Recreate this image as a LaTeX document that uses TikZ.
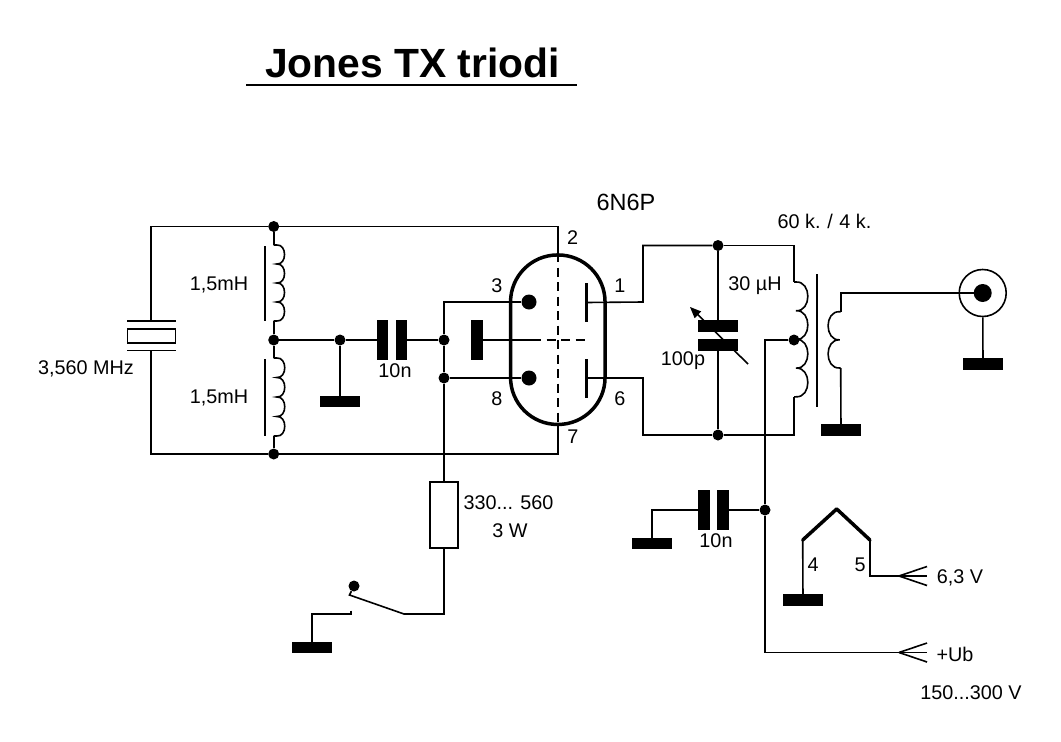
\documentclass[tikz,border=0pt]{standalone}
\usepackage{fontspec}
\setmainfont{Liberation Sans}
\usetikzlibrary{arrows}

\tikzset{
  wire/.style={line width=1.6pt},
  junct/.style={circle,fill=black,inner sep=0pt,minimum size=11pt},
  cat/.style={circle,fill=black,inner sep=0pt,minimum size=15pt},
  gnd/.style={rectangle,fill=black,inner sep=0pt,minimum width=40pt,minimum height=11.5pt},
  platev/.style={rectangle,fill=black,inner sep=0pt,minimum width=11.5pt,minimum height=40pt},
  anode/.style={rectangle,fill=black,inner sep=0pt,minimum width=3pt,minimum height=39pt},
  lbl/.style={inner sep=0pt,font=\fontsize{19.8}{22}\selectfont},
  gridline/.style={wire,dash pattern=on 9pt off 5.5pt},
}

% bumps of a coil: start, cusp offset, pitch, number of bumps, side (1 right, -1 left)
\newcommand{\coil}[5]{%
  \draw[wire,shift={(#1)}] (0,0) -- (#5*#2,0)
    \foreach \n in {1,...,#4} {
      .. controls ({#5*(#2+0.55*#3)},{(\n-1)*#3-1}) and ({#5*(#2+0.55*#3)},{\n*#3+1}) .. ({#5*#2},{\n*#3})
    } -- (0,{#4*#3});
}

\begin{document}
\begin{tikzpicture}[x=1pt,y=-1pt]
\useasboundingbox (0,0) rectangle (1061,742);

% title
\node[inner sep=0pt,font=\fontsize{40.8}{44}\selectfont\bfseries] (title) at (412.5,63) {Jones TX triodi};
\coordinate (ula) at (246,85);
\coordinate (ulb) at (577,85);
\draw[wire] (ula) -- (ulb);

% left part
\node[junct] (j1) at (273.7,226.5) {};
\node[junct] (j2) at (273.7,340) {};
\node[junct] (j3) at (273.7,454) {};
\node[junct] (j4) at (340,340) {};
\node[junct] (j5) at (444,340) {};
\node[junct] (j6) at (444,378) {};
\node[gnd] (g1) at (340,401.5) {};
\node[platev] (c1a) at (382.5,340) {};
\node[platev] (c1b) at (401.5,340) {};
\node[platev,minimum height=40pt] (grid) at (477,340) {};

\node[draw,wire,inner sep=0pt,minimum width=48pt,minimum height=14pt] (xtal) at (151.5,336) {};
\coordinate (xt) at (151,320.7);
\coordinate (xb) at (151,350.5);
\draw[wire] (127.3,320.7) -- (175.7,320.7);
\draw[wire] (127.3,350.5) -- (175.7,350.5);

\coordinate (l1t) at (273.7,245);
\coordinate (l1b) at (273.7,321);
\coordinate (l2t) at (273.7,358);
\coordinate (l2b) at (273.7,436);
\coil{l1t}{3}{19}{4}{1}
\coil{l2t}{3}{19.5}{4}{1}
\draw[wire] (265,246) -- (265,321);
\draw[wire] (265,359) -- (265,436);

\draw[wire] (xt) |- (j1);
\draw[wire] (xb) |- (j3);
\draw[wire] (j1) -- (l1t);
\draw[wire] (l1b) -- (j2);
\draw[wire] (j2) -- (l2t);
\draw[wire] (l2b) -- (j3);
\draw[wire] (j2) -- (j4);
\draw[wire] (j4) -- (c1a);
\draw[wire] (j4) -- (g1);
\draw[wire] (c1b) -- (j5);

% tube
\node[draw,line width=3.5pt,rounded corners=47pt,inner sep=0pt,minimum width=94.5pt,minimum height=169.5pt] (tube) at (557.8,339.7) {};
\node[cat] (k1) at (529,302) {};
\node[cat] (k2) at (529,378) {};
\node[anode] (a1) at (586,302.5) {};
\node[anode] (a2) at (586,378) {};
\coordinate (gd) at (532,340);
\coordinate (ge) at (585,340);
\coordinate (tt) at (557.8,226.5);
\coordinate (tb) at (557.8,454);
\coordinate (c6) at (444,302);
\coordinate (t1) at (643,302);
\coordinate (t2) at (643,378);

\draw[wire] (j1) -- (tt) -- (tube.north);
\draw[wire] (j3) -- (tb) -- (tube.south);
\draw[gridline] (tube.north) -- (tube.south);
\draw[wire] (grid) -- (gd);
\draw[gridline] (gd) -- (ge);
\draw[wire] (k1) -- (c6) -- (j5);
\draw[wire] (k2) -- (j6);
\draw[wire] (j5) -- (j6);

% tank
\node[junct] (j7) at (718,245.5) {};
\node[junct] (j8) at (718,435) {};
\node[junct] (j9) at (794,340) {};
\node[rectangle,fill=black,inner sep=0pt,minimum width=40pt,minimum height=12pt] (c2a) at (718,326) {};
\node[rectangle,fill=black,inner sep=0pt,minimum width=40pt,minimum height=12pt] (c2b) at (718,345) {};
\coordinate (va) at (748,364);
\coordinate (vb) at (690,307);
\draw[wire,-triangle 45] (va) -- (vb);

\coordinate (l3t) at (794,282);
\coordinate (l3b) at (794,397);
\coil{l3t}{2}{28.7}{4}{1}
\draw[wire] (817,274) -- (817,407);
\coordinate (l4t) at (840.7,311.7);
\coordinate (l4b) at (840.7,368);
\coil{l4t}{1}{28.15}{2}{-1}

\draw[wire] (a1) -- (t1) |- (j7);
\draw[wire] (a2) -- (t2) |- (j8);
\draw[wire] (j7) -- (c2a);
\draw[wire] (c2b) -- (j8);
\draw[wire] (j7) -| (l3t);
\draw[wire] (j8) -| (l3b);

% output
\node[circle,draw,wire,inner sep=0pt,minimum size=47pt] (bnc) at (982.7,293) {};
\node[circle,fill=black,inner sep=0pt,minimum size=18pt] (bncin) at (982.7,293) {};
\node[gnd] (g2) at (983,364) {};
\node[gnd] (g3) at (841,430) {};
\coordinate (b1) at (840.7,293);
\draw[wire] (l4t) -- (b1) -- (bncin);
\draw[wire] (l4b) -- (g3);
\draw[wire] (bnc) -- (g2);

% key
\node[draw,wire,inner sep=0pt,minimum width=28pt,minimum height=66.5pt] (rk) at (444,515) {};
\node[circle,fill=black,inner sep=0pt,minimum size=11pt] (sd) at (354,586) {};
\node[gnd] (g4) at (312,647.5) {};
\coordinate (c7) at (444,614);
\coordinate (s1) at (404,614);
\coordinate (s2) at (349.5,595);
\coordinate (s3) at (350.7,614);
\coordinate (s4) at (350.7,610.5);
\draw[wire] (j6) -- (rk);
\draw[wire] (rk) -- (c7) -- (s1) -- (s2) -- (sd);
\draw[wire] (s4) -- (s3) -| (g4);

% supply
\node[junct] (j10) at (765,510) {};
\node[platev] (c3a) at (704,510) {};
\node[platev] (c3b) at (723,510) {};
\node[gnd] (g5) at (652,543.5) {};
\node[gnd] (g6) at (803,600) {};
\coordinate (c8) at (652,510);
\coordinate (c9) at (765,340);
\coordinate (c10) at (765,652.5);
\coordinate (f2) at (899,652.5);
\draw[wire] (c3a) -- (c8) -- (g5);
\draw[wire] (c3b) -- (j10);
\draw[wire] (j9) -- (c9) -- (j10) -- (c10) -- (f2);
\foreach \d in {-9.5,0,9.5} \draw[wire] (f2) -- ++(28,\d);

% heater
\coordinate (h1) at (802.7,540);
\coordinate (h2) at (836.7,509);
\coordinate (h3) at (870,540);
\coordinate (c11) at (870,576);
\coordinate (f1) at (899,576);
\draw[line width=3.5pt,line cap=round,line join=round] (h1) -- (h2) -- (h3);
\draw[wire] (h1) -- (g6);
\draw[wire] (h3) -- (c11) -- (f1);
\foreach \d in {-9.5,0,9.5} \draw[wire] (f1) -- ++(28,\d);

% labels
\node[lbl] (t2n) at (572.7,238) {2};
\node[lbl] (t3n) at (497,286) {3};
\node[lbl] (t1n) at (620,286) {1};
\node[lbl] (t8n) at (497,399) {8};
\node[lbl] (t6n) at (620,399) {6};
\node[lbl] (t7n) at (573,437) {7};
\node[lbl,font=\fontsize{23.5}{25}\selectfont] (tube6) at (626,202) {6N6P};
\node[lbl] (la) at (219,285) {1,5mH};
\node[lbl] (lb) at (219,398) {1,5mH};
\node[lbl] (lx) at (86,369) {3,560 MHz};
\node[lbl] (lc) at (395,371) {10n};
\node[lbl] (ld) at (824.5,221) {60 k.\,\,/\,\,4 k.};
\node[lbl] (le) at (755,286) {30 µH};
\node[lbl] (lf) at (683,361) {100p};
\node[lbl] (lg) at (508.5,503) {330... 560};
\node[lbl] (lh) at (510,531) {3 W};
\node[lbl] (li) at (716,541) {10n};
\node[lbl] (t4n) at (813,565) {4};
\node[lbl] (t5n) at (860,565) {5};
\node[lbl] (lj) at (960,578) {6,3 V};
\node[lbl] (lk) at (955,654) {+Ub};
\node[lbl] (ll) at (971,693) {150...300 V};
\end{tikzpicture}
\end{document}
